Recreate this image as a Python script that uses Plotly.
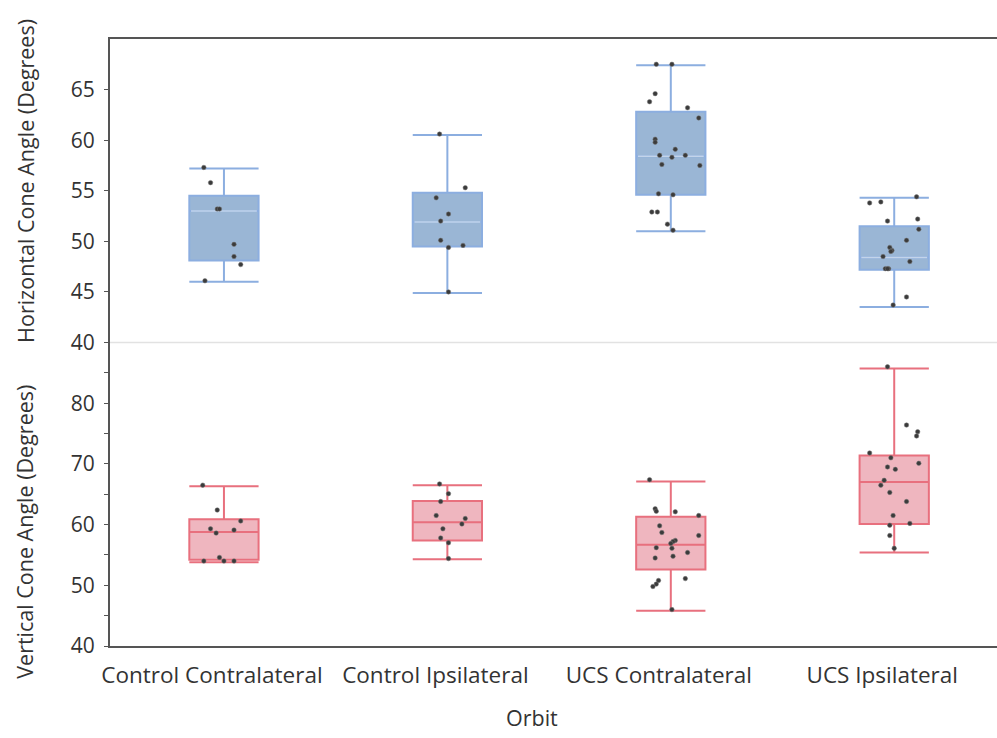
import plotly.graph_objects as go
from plotly.subplots import make_subplots

categories = ["Control Contralateral", "Control Ipsilateral", "UCS Contralateral", "UCS Ipsilateral"]

# Horizontal cone angle box statistics (per category)
h_lower = [46.0, 44.9, 51.0, 43.5]
h_q1 = [48.1, 49.5, 54.6, 47.2]
h_median = [53.0, 51.9, 58.4, 48.4]
h_q3 = [54.5, 54.8, 62.8, 51.5]
h_upper = [57.2, 60.5, 67.4, 54.3]

# Vertical cone angle box statistics
v_lower = [53.8, 54.3, 45.8, 55.4]
v_q1 = [54.2, 57.4, 52.6, 60.1]
v_median = [58.8, 60.4, 56.7, 67.0]
v_q3 = [60.9, 63.9, 61.3, 71.4]
v_upper = [66.3, 66.5, 67.1, 85.7]

# Individual observations (values) and horizontal jitter (category units)
h_points = [
    [57.3, 55.8, 53.2, 53.2, 49.7, 48.5, 47.7, 46.1],
    [60.6, 55.3, 54.3, 52.7, 52.0, 50.1, 49.6, 49.4, 45.0],
    [67.5, 67.5, 64.6, 63.8, 63.2, 62.2, 60.1, 59.8, 59.1, 58.5, 58.3, 58.5, 57.6, 57.5,
     54.7, 54.6, 52.9, 52.9, 51.7, 51.1],
    [54.4, 53.8, 53.9, 52.0, 52.2, 51.2, 50.1, 49.4, 49.1, 49.0, 48.5, 48.0, 47.3, 47.3,
     47.3, 44.5, 43.7],
]
h_jitter = [
    [-0.09, -0.06, -0.03, -0.02, 0.045, 0.045, 0.075, -0.085],
    [-0.035, 0.08, -0.05, 0.005, -0.03, -0.03, 0.07, 0.005, 0.005],
    [-0.065, 0.005, -0.07, -0.095, 0.075, 0.125, -0.07, -0.07, 0.02, -0.05, 0.005, 0.065,
     -0.04, 0.13, -0.055, 0.01, -0.085, -0.06, -0.015, 0.01],
    [0.1, -0.11, -0.06, -0.03, 0.105, 0.11, 0.055, -0.02, -0.01, -0.015, -0.05, 0.07,
     -0.04, -0.025, -0.03, 0.055, -0.005],
]
v_points = [
    [66.5, 62.4, 60.6, 59.3, 58.6, 59.1, 54.6, 54.0, 54.0, 54.0],
    [66.7, 65.1, 63.8, 61.5, 61.0, 60.1, 59.3, 57.8, 57.0, 54.4],
    [67.4, 62.6, 62.2, 62.1, 61.5, 59.8, 58.7, 58.2, 57.4, 57.2, 56.9, 56.2, 56.1, 55.4,
     54.5, 54.8, 50.8, 50.2, 49.8, 51.1, 46.0],
    [86.0, 76.4, 75.3, 74.6, 71.8, 71.0, 69.5, 69.1, 70.1, 67.3, 66.5, 65.3, 63.8, 61.5,
     59.9, 60.2, 58.2, 56.1],
]
v_jitter = [
    [-0.095, -0.03, 0.075, -0.06, -0.035, 0.045, -0.02, -0.09, 0.0, 0.045],
    [-0.035, 0.005, -0.03, -0.05, 0.08, 0.065, -0.02, -0.03, 0.005, 0.005],
    [-0.095, -0.07, -0.065, 0.02, 0.125, -0.05, -0.04, 0.125, 0.02, 0.01, 0.0, -0.065,
     0.005, 0.075, -0.07, 0.01, -0.055, -0.065, -0.08, 0.065, 0.005],
    [-0.03, 0.055, 0.105, 0.1, -0.11, -0.015, -0.03, 0.005, 0.11, -0.045, -0.06, -0.02,
     0.055, -0.005, -0.02, 0.07, -0.02, 0.0],
]

h_ticks = [40, 45, 50, 55, 60, 65]
v_ticks = [40, 50, 60, 70, 80]
v_minor = [45, 55, 65, 75, 85]

FONT = "Open Sans"
TXT = "#333333"
AX = "#555555"
BLUE_FILL = "#9ab6d5"
BLUE_LINE = "#8caee0"
BLUE_MED = "#c3d4ea"
RED_FILL = "#efb6bf"
RED_LINE = "#e8707e"
DOT = "#3b3b3b"

pos = list(range(len(categories)))

fig = make_subplots(rows=2, cols=1, shared_xaxes=True, vertical_spacing=0)

fig.add_trace(go.Box(x=pos, q1=h_q1, median=h_median, q3=h_q3,
                     lowerfence=h_lower, upperfence=h_upper,
                     width=0.31, whiskerwidth=1, boxpoints=False,
                     fillcolor=BLUE_FILL, line=dict(color=BLUE_LINE, width=2),
                     hoverinfo="skip", showlegend=False), row=1, col=1)
fig.add_trace(go.Scatter(x=pos, y=h_median, mode="markers",
                         marker=dict(symbol="line-ew", size=47,
                                     line=dict(color=BLUE_MED, width=1.5)),
                         hoverinfo="skip", showlegend=False), row=1, col=1)
fig.add_trace(go.Box(x=pos, q1=v_q1, median=v_median, q3=v_q3,
                     lowerfence=v_lower, upperfence=v_upper,
                     width=0.31, whiskerwidth=1, boxpoints=False,
                     fillcolor=RED_FILL, line=dict(color=RED_LINE, width=2),
                     hoverinfo="skip", showlegend=False), row=2, col=1)

for i in pos:
    fig.add_trace(go.Scatter(x=[i + j for j in h_jitter[i]], y=h_points[i], mode="markers",
                             marker=dict(color=DOT, size=4.5, line=dict(color="#777777", width=0.5)),
                             showlegend=False), row=1, col=1)
    fig.add_trace(go.Scatter(x=[i + j for j in v_jitter[i]], y=v_points[i], mode="markers",
                             marker=dict(color=DOT, size=4.5, line=dict(color="#777777", width=0.5)),
                             showlegend=False), row=2, col=1)

fig.update_layout(
    width=997, height=738,
    margin=dict(l=110, r=0, t=39, b=92),
    paper_bgcolor="white", plot_bgcolor="white",
    font=dict(family=FONT, size=21, color=TXT),
    boxmode="overlay",
)

fig.update_xaxes(range=[-0.51, 3.46], showgrid=False, zeroline=False)
fig.update_layout(
    xaxis=dict(side="top", showline=True, linecolor=AX, linewidth=2,
               showticklabels=False, ticks=""),
    xaxis2=dict(showline=True, linecolor=AX, linewidth=2, ticks="",
                tickmode="array", tickvals=pos, ticktext=categories,
                tickfont=dict(size=22.5, color=TXT), ticklabelstandoff=8,
                ticklabelshift=-12),
    yaxis=dict(range=[40, 70], tickmode="array", tickvals=h_ticks,
               showgrid=False, zeroline=False, showline=True, linecolor=AX, linewidth=2,
               ticks="outside", ticklen=4, tickcolor=AX, ticklabelstandoff=5,
               tickfont=dict(size=21, color=TXT)),
    yaxis2=dict(range=[40, 90], tickmode="array", tickvals=v_ticks,
                showgrid=False, zeroline=False, showline=True, linecolor=AX, linewidth=2,
                ticks="outside", ticklen=4, tickcolor=AX, ticklabelstandoff=5,
                tickfont=dict(size=21, color=TXT),
                minor=dict(tickmode="array", tickvals=v_minor, ticks="outside",
                           ticklen=4, tickcolor=AX)),
)

# divider between the two panels
fig.add_shape(type="line", xref="x2 domain", yref="paper", x0=0, x1=1, y0=0.5, y1=0.5,
              line=dict(color="#e2e2e2", width=1.5))

fig.add_annotation(text="Horizontal Cone Angle (Degrees)", xref="paper", yref="paper",
                   x=-0.096, y=0.766, textangle=-90, showarrow=False,
                   xanchor="center", yanchor="middle", font=dict(size=21.5, color=TXT))
fig.add_annotation(text="Vertical Cone Angle (Degrees)", xref="paper", yref="paper",
                   x=-0.096, y=0.188, textangle=-90, showarrow=False,
                   xanchor="center", yanchor="middle", font=dict(size=21.5, color=TXT))
fig.add_annotation(text="Orbit", xref="paper", yref="paper",
                   x=0.476, y=-0.1186, showarrow=False,
                   xanchor="center", yanchor="middle", font=dict(size=21.5, color=TXT))

fig.write_html("out.html", config={"displayModeBar": False},
               post_script="document.body.style.margin='0';document.body.style.overflow='hidden';")
